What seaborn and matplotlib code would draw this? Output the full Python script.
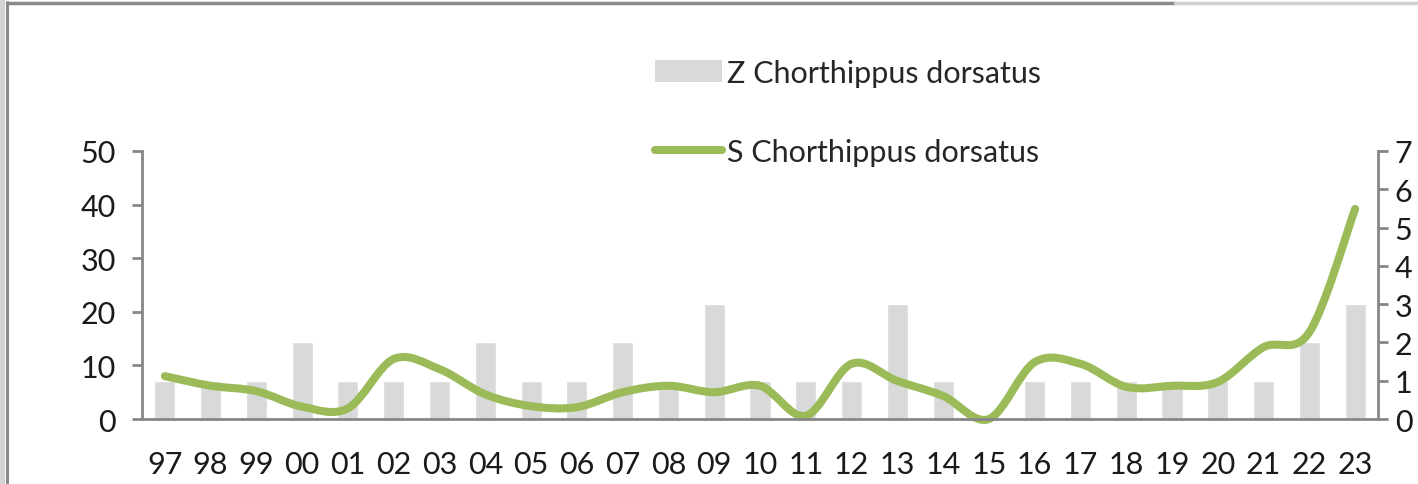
import numpy as np
import pandas as pd
import matplotlib
matplotlib.use('Agg')
import matplotlib.pyplot as plt
import seaborn as sns
from matplotlib.path import Path
from matplotlib.patches import PathPatch, Patch, Rectangle
from matplotlib.lines import Line2D

# chart data
years = ['97', '98', '99', '00', '01', '02', '03', '04', '05', '06', '07', '08', '09',
         '10', '11', '12', '13', '14', '15', '16', '17', '18', '19', '20', '21', '22', '23']
z_counts = [1, 1, 1, 2, 1, 1, 1, 2, 1, 1, 2, 1, 3, 1, 1, 1, 3, 1, 0, 1, 1, 1, 1, 1, 1, 2, 3]
s_values = [8.0, 6.2, 5.2, 2.3, 2.0, 11.2, 9.3, 4.6, 2.4, 2.2, 5.0, 6.2, 5.0, 6.2, 0.6,
            10.3, 7.1, 4.3, 0.0, 10.6, 10.3, 6.0, 6.2, 6.9, 13.4, 16.2, 39.2]
left_ticks = [0, 10, 20, 30, 40, 50]
right_ticks = [0, 1, 2, 3, 4, 5, 6, 7]

bar_color = '#d9d9d9'
line_color = '#9bbb59'
axis_color = '#868686'
text_color = '#1a1a1a'
fs = 22

sns.set_style('white')
plt.rcParams['font.family'] = ['Lato', 'DejaVu Sans']

df = pd.DataFrame({'year': years, 'z': z_counts, 's': s_values})

fig = plt.figure(figsize=(14.18, 4.85), dpi=100)
ax = fig.add_axes([0.1001, 0.134, 0.8717, 0.5526])
ax2 = ax.twinx()

# bars on the secondary (right) axis
sns.barplot(data=df, x='year', y='z', order=years, ax=ax2, color=bar_color,
            saturation=1, width=0.46)
ax2.set_ylim(0, 7)
ax2.set_yticks(right_ticks)
ax2.set_ylabel('')

# smoothed line on the primary axis (bezier through the points, like excel smoothing)
xs = np.arange(len(years))
pts = np.column_stack([xs, df['s'].values])
verts = [tuple(pts[0])]
codes = [Path.MOVETO]
for i in range(len(pts) - 1):
    p0 = pts[i - 1] if i > 0 else pts[i]
    p1 = pts[i]
    p2 = pts[i + 1]
    p3 = pts[i + 2] if i + 2 < len(pts) else pts[i + 1]
    c1 = p1 + (p2 - p0) / 6.0
    c2 = p2 - (p3 - p1) / 6.0
    verts += [tuple(c1), tuple(c2), tuple(p2)]
    codes += [Path.CURVE4] * 3
curve = PathPatch(Path(verts, codes), facecolor='none', edgecolor=line_color,
                  lw=5.8, capstyle='round', joinstyle='round', clip_on=False)
ax.add_patch(curve)
ax.set_ylim(0, 50)
ax.set_yticks(left_ticks)
ax.set_xlim(-0.5, len(years) - 0.5)

ax.set_zorder(ax2.get_zorder() + 1)
ax.patch.set_visible(False)

# spines
for a in (ax, ax2):
    for s in a.spines.values():
        s.set_visible(False)
ax.spines['left'].set_visible(True)
ax.spines['bottom'].set_visible(True)
ax2.spines['right'].set_visible(True)
for s in (ax.spines['left'], ax.spines['bottom'], ax2.spines['right']):
    s.set_color(axis_color)
    s.set_linewidth(2.0)

# x ticks: labels at category centres, marks at boundaries
ax.set_xticks(xs)
ax.set_xticklabels(years)
ax.set_xticks(np.arange(-0.5, len(years) + 0.5, 1), minor=True)
ax.tick_params(axis='x', which='major', length=0, pad=22, labelsize=fs, colors=text_color)
ax.tick_params(axis='x', which='minor', length=7, width=2, color=axis_color, direction='out')
ax.tick_params(axis='y', length=7, width=2, color=axis_color, labelsize=fs,
               labelcolor=text_color, pad=12)
ax2.tick_params(axis='y', length=7, width=2, color=axis_color, labelsize=fs,
                labelcolor=text_color, pad=5)
ax2.tick_params(axis='x', length=0)
ax.set_xlabel('')
ax2.set_xlabel('')

# legend
handles = [Patch(facecolor=bar_color, edgecolor='none'),
           Line2D([0], [0], color=line_color, lw=5.8, solid_capstyle='round')]
labels = ['Z Chorthippus dorsatus', 'S Chorthippus dorsatus']
fig.legend(handles, labels, loc='upper left', bbox_to_anchor=(0.462, 0.877),
           frameon=False, fontsize=fs, handlelength=2.2, handleheight=0.7,
           handletextpad=0.15, labelspacing=1.68, borderpad=0, borderaxespad=0)

# chart border (cropped excel frame)
fig.add_artist(Rectangle((0, 0), 5 / 1418, 1, transform=fig.transFigure,
                         facecolor='#d4d4d4', edgecolor='none'))
fig.add_artist(Line2D([7.5 / 1418, 7.5 / 1418], [0, 1 - 3 / 485], transform=fig.transFigure,
                      color='#8a8a8a', lw=2.2))
fig.add_artist(Line2D([7.5 / 1418, 1175 / 1418], [1 - 4 / 485, 1 - 4 / 485],
                      transform=fig.transFigure, color='#8a8a8a', lw=2.5))
fig.add_artist(Line2D([1175 / 1418, 1], [1 - 4 / 485, 1 - 4 / 485],
                      transform=fig.transFigure, color='#cfcfcf', lw=2.5))

fig.savefig('out.png', dpi=100)
